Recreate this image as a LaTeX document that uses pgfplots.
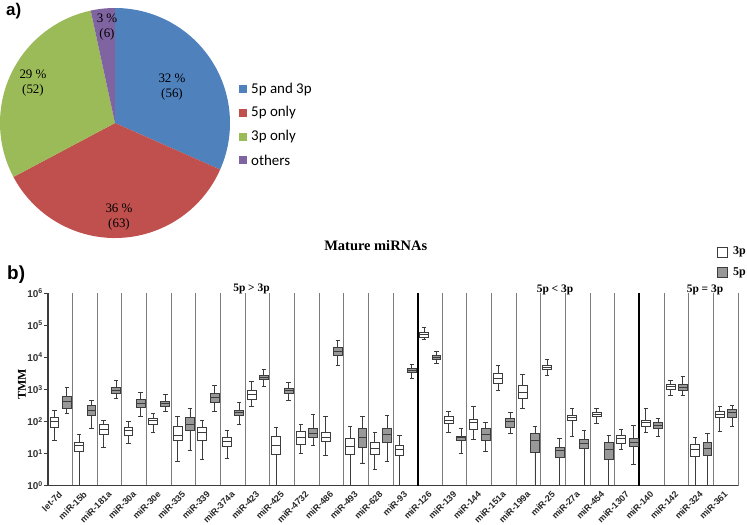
\documentclass[border=0pt]{standalone}
\usepackage{pgfplots}
\pgfplotsset{compat=1.18}
\usepackage{pgfplotstable}
\usepgfplotslibrary{statistics}
\usepackage{fontspec}
\setmainfont{Liberation Serif}
\setsansfont{Liberation Sans}
\newfontfamily\calibri{Carlito}
\definecolor{pieblue}{RGB}{79,129,189}
\definecolor{piered}{RGB}{192,80,77}
\definecolor{piegreen}{RGB}{155,187,89}
\definecolor{piepurple}{RGB}{128,100,162}
\definecolor{boxgray}{RGB}{152,152,152}
\definecolor{edge}{RGB}{60,60,60}
\definecolor{sep}{RGB}{125,125,125}

% log10(TMM): lower whisker, lower quartile, median, upper quartile, upper whisker
\pgfplotstableread{
name lw lq med uq uw
let-7d 1.41 1.83 2.00 2.13 2.34
miR-15b -0.3 1.06 1.25 1.36 1.59
miR-181a 1.20 1.60 1.77 1.90 2.05
miR-30a 1.32 1.58 1.72 1.83 2.01
miR-30e 1.66 1.92 2.03 2.11 2.27
miR-335 0.77 1.41 1.57 1.85 2.17
miR-339 0.83 1.42 1.65 1.81 2.04
miR-374a 0.86 1.24 1.37 1.50 1.72
miR-423 2.47 2.70 2.85 2.96 3.24
miR-425 -0.3 0.98 1.27 1.53 1.82
miR-4732 1.01 1.29 1.52 1.69 1.91
miR-486 0.95 1.39 1.52 1.66 2.16
miR-493 -0.3 0.98 1.23 1.47 1.84
miR-628 0.51 0.99 1.17 1.34 1.65
miR-93 -0.3 0.95 1.12 1.26 1.58
miR-126 4.56 4.64 4.71 4.77 4.93
miR-139 1.67 1.94 2.05 2.15 2.31
miR-144 1.44 1.75 1.96 2.07 2.46
miR-151a 2.97 3.20 3.35 3.50 3.76
miR-199a 2.41 2.72 2.90 3.13 3.47
miR-25 3.44 3.62 3.70 3.76 3.93
miR-27a 1.54 2.05 2.13 2.20 2.41
miR-454 1.94 2.15 2.23 2.29 2.41
miR-1307 1.12 1.32 1.47 1.56 1.77
miR-140 1.66 1.85 1.97 2.05 2.41
miR-142 2.82 2.99 3.09 3.16 3.28
miR-324 -0.3 0.91 1.12 1.28 1.50
miR-361 1.69 2.12 2.22 2.31 2.46
}\threep

\pgfplotstableread{
name lw lq med uq uw
let-7d 2.26 2.41 2.64 2.77 3.07
miR-15b 1.79 2.20 2.35 2.49 2.66
miR-181a 2.72 2.87 2.97 3.06 3.27
miR-30a 2.17 2.43 2.57 2.69 2.91
miR-30e 2.31 2.47 2.56 2.64 2.85
miR-335 1.10 1.72 1.92 2.13 2.40
miR-339 2.32 2.61 2.74 2.89 3.14
miR-374a 1.92 2.20 2.29 2.36 2.60
miR-423 3.10 3.32 3.39 3.45 3.62
miR-425 2.67 2.89 2.97 3.04 3.22
miR-4732 1.25 1.50 1.64 1.78 2.22
miR-486 3.75 4.06 4.20 4.31 4.53
miR-493 0.71 1.21 1.51 1.79 2.15
miR-628 0.75 1.35 1.61 1.78 2.20
miR-93 3.34 3.52 3.60 3.66 3.78
miR-126 3.81 3.94 4.01 4.06 4.19
miR-139 1.01 1.41 1.50 1.55 1.78
miR-144 1.07 1.40 1.59 1.79 1.98
miR-151a 1.63 1.82 2.02 2.10 2.29
miR-199a -0.3 1.03 1.41 1.64 1.84
miR-25 -0.3 0.87 1.10 1.21 1.48
miR-27a -0.3 1.16 1.31 1.44 1.72
miR-454 -0.3 0.81 1.13 1.35 1.56
miR-1307 0.67 1.23 1.34 1.47 1.88
miR-140 1.55 1.79 1.89 1.98 2.10
miR-142 2.81 2.97 3.07 3.15 3.41
miR-324 -0.3 0.95 1.17 1.35 1.63
miR-361 1.84 2.14 2.28 2.37 2.49
}\fivep

% one prepared box plot from row #2 of table #1, at x position #3, with fill #4
\newcommand\boxrow[4]{%
  \pgfplotstablegetelem{#2}{lw}\of#1\let\bLW\pgfplotsretval
  \pgfplotstablegetelem{#2}{lq}\of#1\let\bLQ\pgfplotsretval
  \pgfplotstablegetelem{#2}{med}\of#1\let\bMED\pgfplotsretval
  \pgfplotstablegetelem{#2}{uq}\of#1\let\bUQ\pgfplotsretval
  \pgfplotstablegetelem{#2}{uw}\of#1\let\bUW\pgfplotsretval
  \edef\bTemp{\noexpand\addplot[draw=edge, fill=#4, line width=0.8pt,
    boxplot prepared={draw position=#3, lower whisker=\bLW, lower quartile=\bLQ,
      median=\bMED, upper quartile=\bUQ, upper whisker=\bUW}] coordinates {};}%
  \bTemp
}

\begin{document}
\begin{tikzpicture}
\useasboundingbox (0,0) rectangle (747bp,-525bp);

% ---------- a) pie ----------
\node[anchor=base west, inner sep=0, font=\sffamily\bfseries\fontsize{17}{20}\selectfont] at (6bp,-15bp) {a)};
\begin{axis}[at={(115bp,-123bp)}, anchor=center, scale only axis,
  width=230bp, height=230bp, hide axis,
  xmin=-1, xmax=1, ymin=-1, ymax=1, clip=false]
\fill[pieblue]   (axis cs:0,0) -- ++(90:115bp) arc[start angle=90, delta angle={-56/177*360}, radius=115bp] -- cycle;
\fill[piered]    (axis cs:0,0) -- ++({90-56/177*360}:115bp) arc[start angle={90-56/177*360}, delta angle={-63/177*360}, radius=115bp] -- cycle;
\fill[piegreen]  (axis cs:0,0) -- ++({90-119/177*360}:115bp) arc[start angle={90-119/177*360}, delta angle={-52/177*360}, radius=115bp] -- cycle;
\fill[piepurple] (axis cs:0,0) -- ++({90-171/177*360}:115bp) arc[start angle={90-171/177*360}, delta angle={-6/177*360}, radius=115bp] -- cycle;
\end{axis}
\begin{scope}[every node/.style={align=center, inner sep=0, font=\fontsize{13}{15}\selectfont}]
\node at (172bp,-87.5bp) {32 \%\\(56)};
\node at (119bp,-217.5bp) {36 \%\\(63)};
\node at (33bp,-83.5bp) {29 \%\\(52)};
\node at (107bp,-27bp) {3 \%\\(6)};
\end{scope}
\begin{scope}[every node/.style={anchor=west, inner sep=0, font=\calibri\fontsize{15}{17}\selectfont}]
\fill[pieblue]   (239bp,-85.3bp)  rectangle ++(8bp,-8bp);
\fill[piered]    (239bp,-108.7bp) rectangle ++(8bp,-8bp);
\fill[piegreen]  (239bp,-132.7bp) rectangle ++(8bp,-8bp);
\fill[piepurple] (239bp,-156bp)   rectangle ++(8bp,-8bp);
\node at (251bp,-89.3bp) {5p and 3p};
\node at (251bp,-112.7bp) {5p only};
\node at (251bp,-136.7bp) {3p only};
\node at (251bp,-160bp) {others};
\end{scope}

% ---------- b) box plots ----------
\node[anchor=base west, inner sep=0, font=\sffamily\bfseries\fontsize{19}{22}\selectfont] at (7bp,-279bp) {b)};
\begin{axis}[at={(48bp,-485.7bp)}, anchor=south west, scale only axis,
  width=690bp, height=192.4bp,
  xmin=0, xmax=28, ymin=0, ymax=6,
  axis lines=left, axis line style={-, draw=edge, line width=1.3pt},
  xtick={0.5,1.5,...,27.5},
  xticklabels from table={\threep}{name},
  xticklabel style={rotate=45, anchor=north east, inner sep=0.5pt, xshift=-1.5bp, yshift=1.5bp,
    font=\sffamily\bfseries\fontsize{9}{10}\selectfont, text=black!85},
  x tick style={draw=none},
  minor xtick={1,...,28}, xminorgrids,
  minor x grid style={sep, line width=1pt},
  extra x ticks={15,24}, extra x tick labels={},
  extra x tick style={grid=major, major grid style={black, line width=2pt}},
  ytick={0,...,6},
  yticklabels={10\textsuperscript{0},10\textsuperscript{1},10\textsuperscript{2},10\textsuperscript{3},10\textsuperscript{4},10\textsuperscript{5},10\textsuperscript{6}},
  yticklabel style={font=\sffamily\bfseries\fontsize{10}{11}\selectfont, text=black!80, inner sep=1pt},
  y tick style={draw=edge, line width=0.9pt},
  tick align=outside, major tick length=4bp,
  ylabel={\bfseries TMM},
  ylabel style={at={(axis description cs:-0.0377,0.528)}, anchor=center, font=\fontsize{12}{13}\selectfont},
  title={\bfseries Mature miRNAs},
  title style={at={(axis description cs:0.475,1.216)}, anchor=center, font=\fontsize{14.5}{16}\selectfont},
  boxplot/draw direction=y,
  boxplot/box extend=0.36,
  boxplot/whisker extend=0.18,
]
\pgfplotsinvokeforeach{0,...,27}{
  \boxrow{\threep}{#1}{#1+0.26}{white}
  \boxrow{\fivep}{#1}{#1+0.76}{boxgray}
}
\end{axis}

% group labels and legend
\begin{scope}[every node/.style={inner sep=0, font=\bfseries\fontsize{11.5}{13}\selectfont}]
\node[anchor=base] at (251.5bp,-291.5bp) {5p > 3p};
\node[anchor=base] at (555bp,-292bp) {5p < 3p};
\node[anchor=base] at (705bp,-292bp) {5p = 3p};
\end{scope}
\draw[edge, line width=0.7pt, fill=white] (717bp,-247bp) rectangle (727bp,-257bp);
\draw[edge, line width=0.7pt, fill=boxgray] (717bp,-267.5bp) rectangle (727bp,-277.5bp);
\node[anchor=west, inner sep=0, font=\bfseries\fontsize{12}{14}\selectfont] at (733bp,-252bp) {3p};
\node[anchor=west, inner sep=0, font=\bfseries\fontsize{12}{14}\selectfont] at (733bp,-272.5bp) {5p};
\end{tikzpicture}
\end{document}
